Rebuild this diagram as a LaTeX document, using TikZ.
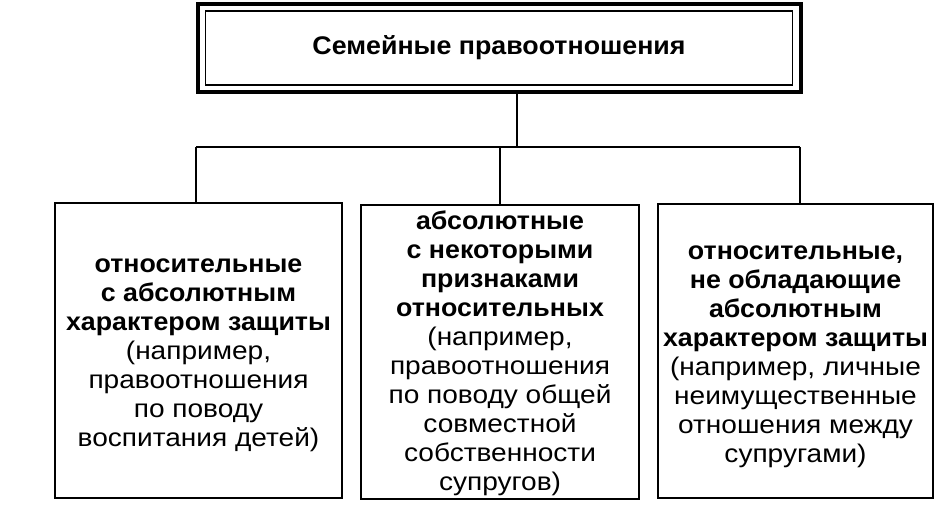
\documentclass[tikz,border=0pt]{standalone}
\usepackage{fontspec}
\setmainfont{Liberation Sans}[FakeStretch=1.1,BoldFeatures={FakeStretch=1.05}]
\usetikzlibrary{calc}
\begin{document}
\begin{tikzpicture}[x=1pt,y=-1pt,
  box/.style={draw,line width=1.8pt,inner sep=0pt},
  boxtext/.style={align=center,inner sep=0pt,font=\fontsize{25.5}{29}\selectfont},
  conn/.style={line width=1.6pt}]
\useasboundingbox[fill=white] (0,0) rectangle (941,512);
% top double box
\node[draw,line width=3.5pt,minimum width=603pt,minimum height=88pt,inner sep=0pt] (topout) at (499.5,48) {};
\node[draw,line width=1.8pt,minimum width=587pt,minimum height=74pt,inner sep=0pt,font=\bfseries\fontsize{25.5}{28}\selectfont] (top) at (499,48) {Семейные правоотношения};
% three boxes
\node[box,minimum width=287pt,minimum height=295pt] (left) at (198.5,350.5) {};
\node[box,minimum width=278pt,minimum height=294pt] (mid) at (500,352) {};
\node[box,minimum width=275pt,minimum height=294pt] (right) at (795.5,351) {};
\node[boxtext] (lefttext) at ($(left.center)+(0,5)$) {\textbf{относительные}\\\textbf{с абсолютным}\\\textbf{характером защиты}\\(например,\\правоотношения\\по поводу\\воспитания детей)};
\node[boxtext] (midtext) at ($(mid.center)+(0,1.5)$) {\textbf{абсолютные}\\\textbf{с некоторыми}\\\textbf{признаками}\\\textbf{относительных}\\(например,\\правоотношения\\по поводу общей\\совместной\\собственности\\супругов)};
\node[boxtext] (righttext) at ($(right.center)+(0,6)$) {\textbf{относительные,}\\\textbf{не обладающие}\\\textbf{абсолютным}\\\textbf{характером защиты}\\(например, личные\\неимущественные\\отношения между\\супругами)};
% connectors
\coordinate (hl) at (196,147);
\coordinate (hr) at (800,147);
\coordinate (hm) at (517,147);
\draw[conn] (hl) -- (hr);
\draw[conn] (topout.south -| hm) -- (hm);
\draw[conn] (hl) -- (hl |- left.north);
\draw[conn] (mid.north |- hl) -- (mid.north);
\draw[conn] (hr) -- (hr |- right.north);
\end{tikzpicture}
\end{document}
